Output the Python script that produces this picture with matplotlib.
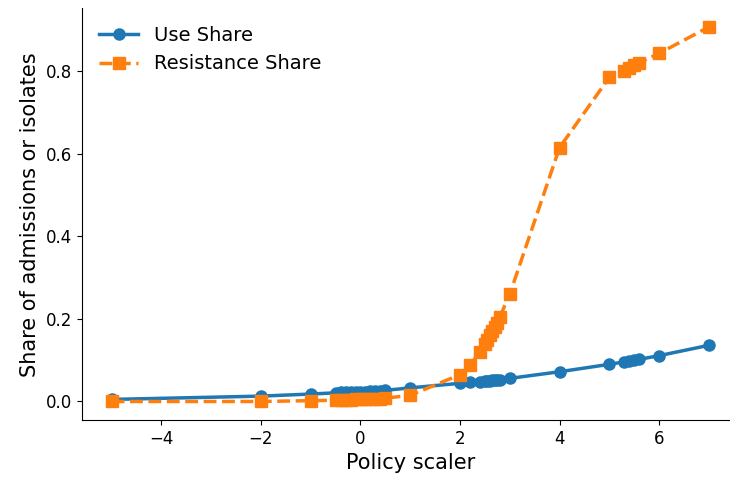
import matplotlib.pyplot as plt

# policy scaler grid and resulting shares
scaler = [-5, -2, -1, -0.5, -0.4, -0.3, -0.2, -0.1, 0.0, 0.1, 0.2, 0.3, 0.4, 0.5,
          1, 2, 2.2, 2.4, 2.5, 2.55, 2.6, 2.65, 2.7, 2.75, 2.8, 3, 4,
          5, 5.3, 5.4, 5.5, 5.6, 6, 7]
use_share = [0.005, 0.013, 0.018, 0.021, 0.022, 0.022, 0.023, 0.023, 0.024, 0.024,
             0.025, 0.026, 0.026, 0.027, 0.033, 0.044, 0.046, 0.048, 0.049, 0.050,
             0.050, 0.051, 0.052, 0.052, 0.053, 0.056, 0.072, 0.090, 0.096, 0.098,
             0.100, 0.102, 0.111, 0.136]
resistance_share = [0.000, 0.000, 0.002, 0.003, 0.003, 0.004, 0.004, 0.005, 0.005,
                    0.006, 0.006, 0.007, 0.007, 0.008, 0.015, 0.065, 0.088, 0.120,
                    0.140, 0.150, 0.160, 0.170, 0.180, 0.190, 0.205, 0.260, 0.615,
                    0.785, 0.800, 0.808, 0.815, 0.820, 0.843, 0.907]

fig, ax = plt.subplots(figsize=(7.3, 4.83), dpi=100)
ax.plot(scaler, use_share, marker='o', linestyle='-', linewidth=2.5, markersize=8,
        color='#1f77b4', label='Use Share')
ax.plot(scaler, resistance_share, marker='s', linestyle='--', linewidth=2.5, markersize=8,
        color='#ff7f0e', label='Resistance Share')

ax.set_xlabel('Policy scaler', fontsize=15)
ax.set_ylabel('Share of admissions or isolates', fontsize=15)
ax.tick_params(labelsize=12)
ax.spines['top'].set_visible(False)
ax.spines['right'].set_visible(False)
ax.legend(frameon=False, fontsize=14, loc='upper left')

fig.subplots_adjust(left=0.112, right=1.012, bottom=0.130, top=0.983)
fig.savefig('out.png')
